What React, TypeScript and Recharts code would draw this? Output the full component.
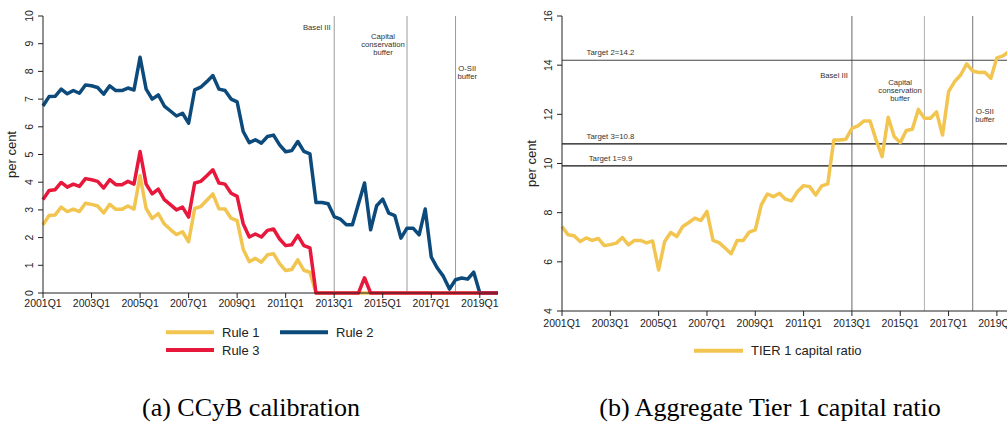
import React from 'react';
import { LineChart, Line, XAxis, YAxis, ReferenceLine } from 'recharts';

// ---------- categories ----------
const quarters: string[] = [];
for (let y = 2001; y <= 2019; y++) for (let q = 1; q <= 4; q++) quarters.push(`${y}Q${q}`);
const tickLabels = ['2001Q1', '2003Q1', '2005Q1', '2007Q1', '2009Q1', '2011Q1', '2013Q1', '2015Q1', '2017Q1', '2019Q1'];

// ---------- series (per cent) ----------
const rule1 = [
  2.46, 2.8, 2.82, 3.1, 2.94, 3.03, 2.94, 3.24, 3.2, 3.14, 2.89, 3.2, 3.02, 3.02, 3.14, 3.03,
  4.23, 3.05, 2.69, 2.87, 2.49, 2.29, 2.11, 2.21, 1.85, 3.05, 3.12, 3.35, 3.58, 3.04, 3.03, 2.7,
  2.61, 1.58, 1.13, 1.25, 1.11, 1.38, 1.42, 1.06, 0.81, 0.85, 1.2, 0.82, 0.75, 0, 0, 0,
  0, 0, 0, 0, 0, 0, 0, 0, 0, 0, 0, 0, 0, 0, 0, 0,
  0, 0, 0, 0, 0, 0, 0, 0, 0, 0, 0, 0,
];
const rule2 = [
  6.75, 7.09, 7.1, 7.36, 7.19, 7.31, 7.21, 7.51, 7.48, 7.42, 7.18, 7.48, 7.31, 7.31, 7.4, 7.33,
  8.51, 7.36, 7.0, 7.15, 6.75, 6.57, 6.39, 6.49, 6.13, 7.33, 7.43, 7.63, 7.85, 7.36, 7.31, 7.0,
  6.9, 5.83, 5.43, 5.53, 5.41, 5.65, 5.7, 5.35, 5.1, 5.14, 5.47, 5.11, 5.02, 3.27, 3.27, 3.22,
  2.76, 2.67, 2.46, 2.46, 3.22, 3.97, 2.28, 3.15, 3.39, 2.88, 2.79, 1.98, 2.34, 2.34, 2.1, 3.03,
  1.3, 0.9, 0.6, 0.14, 0.48, 0.54, 0.5, 0.75, 0, 0, 0, 0,
];
const rule3 = [
  3.37, 3.7, 3.73, 3.99, 3.82, 3.93, 3.85, 4.13, 4.09, 4.03, 3.79, 4.09, 3.91, 3.91, 4.03, 3.93,
  5.11, 3.93, 3.58, 3.75, 3.37, 3.19, 3.0, 3.1, 2.74, 3.97, 4.03, 4.23, 4.45, 3.97, 3.93, 3.6,
  3.49, 2.5, 2.02, 2.13, 2.02, 2.26, 2.31, 1.95, 1.71, 1.74, 2.08, 1.71, 1.63, 0, 0, 0,
  0, 0, 0, 0, 0, 0.55, 0, 0, 0, 0, 0, 0, 0, 0, 0, 0,
  0, 0, 0, 0, 0, 0, 0, 0, 0, 0, 0, 0,
];
const tier1 = [
  7.44, 7.1, 7.06, 6.83, 6.97, 6.87, 6.95, 6.66, 6.7, 6.76, 6.99, 6.69, 6.87, 6.87, 6.77, 6.85,
  5.67, 6.83, 7.19, 7.03, 7.44, 7.6, 7.78, 7.68, 8.05, 6.87, 6.78, 6.56, 6.33, 6.87, 6.87, 7.21,
  7.3, 8.32, 8.76, 8.65, 8.79, 8.55, 8.48, 8.86, 9.1, 9.06, 8.72, 9.09, 9.17, 10.96, 10.96, 10.99,
  11.43, 11.53, 11.73, 11.73, 10.96, 10.28, 11.88, 11.1, 10.85, 11.34, 11.39, 12.2, 11.84, 11.84, 12.1, 11.16,
  12.92, 13.33, 13.6, 14.05, 13.76, 13.7, 13.71, 13.47, 14.3, 14.38, 14.55, 14.62,
];

// ---------- annotations ----------
const eventQuarters = ['2013Q1', '2016Q1', '2018Q1'];
const eventTexts = [['Basel III'], ['Capital', 'conservation', 'buffer'], ['O-SII', 'buffer']];
const targetValues = [14.2, 10.8, 9.9];
const targetNames = ['Target 2', 'Target 3', 'Target 1'];

const leftTicks = [0, 1, 2, 3, 4, 5, 6, 7, 8, 9, 10];
const rightTicks = [4, 6, 8, 10, 12, 14, 16];

const ruleNames = ['Rule 1', 'Rule 2', 'Rule 3'];
const tierName = 'TIER 1 capital ratio';
const captions = ['(a) CCyB calibration', '(b) Aggregate Tier 1 capital ratio'];

// ---------- styles ----------
const YELLOW = '#F2C550';
const BLUE = '#0B4A7B';
const RED = '#E8183D';
const ruleColors = [YELLOW, BLUE, RED];
const SANS = '"Liberation Sans", Arial, Helvetica, sans-serif';
const SERIF = '"Liberation Serif", "Times New Roman", serif';
const AXIS = '#222';

const data = quarters.map((q, i) => ({ i, q, r1: rule1[i], r2: rule2[i], r3: rule3[i], t1: tier1[i] }));
const tickIdx = tickLabels.map((t) => quarters.indexOf(t));
const eventIdx = eventQuarters.map((q) => quarters.indexOf(q));
const lastIdx = quarters.length - 1;

const RotTick = (props: any) => {
  const { x, y, payload } = props;
  return (
    <text x={x} y={y} transform={`rotate(-90 ${x} ${y})`} textAnchor="middle" fontSize={10.5} fill={AXIS} fontFamily={SANS}>
      {payload.value}
    </text>
  );
};

const fmtQ = (v: number) => quarters[v] ?? '';

const makeEventLabel = (lines: string[], dx: number, dy: number, anchor: string) => (p: any) => {
  const vb = p && p.viewBox ? p.viewBox : { x: 0, y: 0 };
  return (
    <text fontSize={7.7} fill="#333" fontFamily={SANS} textAnchor={anchor}>
      {lines.map((l, k) => (
        <tspan key={k} x={vb.x + dx} y={vb.y + dy + k * 8}>
          {l}
        </tspan>
      ))}
    </text>
  );
};

const makeTargetLabel = (text: string, dx: number, dy: number) => (p: any) => {
  const vb = p && p.viewBox ? p.viewBox : { x: 0, y: 0 };
  return (
    <text x={vb.x + dx} y={vb.y + dy} fontSize={7.8} fill="#333" fontFamily={SANS} textAnchor="middle">
      {text}
    </text>
  );
};

const perCent = (dx: number) => (p: any) => {
  const vb = p && p.viewBox ? p.viewBox : { x: 0, y: 0, height: 0 };
  const cx = vb.x + dx;
  const cy = vb.y + vb.height / 2;
  return (
    <text x={cx} y={cy} transform={`rotate(-90 ${cx} ${cy})`} textAnchor="middle" fontSize={13} fill={AXIS} fontFamily={SANS}>
      per cent
    </text>
  );
};

const leftEventCfg = [
  { dx: -3.5, dy: 13.5, anchor: 'end' },
  { dx: -24, dy: 22.5, anchor: 'middle' },
  { dx: 11.7, dy: 55, anchor: 'middle' },
];
const rightEventCfg = [
  { dx: -4, dy: 62, anchor: 'end' },
  { dx: -24.3, dy: 68.5, anchor: 'middle' },
  { dx: 12.2, dy: 97.5, anchor: 'middle' },
];
const leftEventStroke = ['#9a9a9a', '#9a9a9a', '#9a9a9a'];
const rightEventStroke = ['#666', '#b0b0b0', '#777'];
const targetStroke = ['#444', '#111', '#111'];
const targetLabelDy = [-5, -5, -4.5];

export default function App() {
  return (
    <div style={{ position: 'absolute', left: 0, top: 0, width: 1007, height: 426, overflow: 'hidden', background: '#fff' }}>
      {/* Left panel */}
      <div style={{ position: 'absolute', left: 0, top: 0 }}>
        <LineChart width={510} height={310} data={data} margin={{ top: 16, right: 12, bottom: 0, left: 13 }} style={{ fontFamily: SANS }}>
          <XAxis
            dataKey="i"
            type="number"
            domain={[0, lastIdx]}
            ticks={tickIdx}
            tickFormatter={fmtQ}
            interval={0}
            height={17}
            tickSize={5}
            tickMargin={2}
            stroke={AXIS}
            tick={{ fontSize: 10.5, fill: AXIS, fontFamily: SANS }}
            allowDecimals={false}
          />
          <YAxis
            type="number"
            domain={[0, 10]}
            ticks={leftTicks}
            interval={0}
            width={30}
            tickSize={5}
            tickMargin={5}
            stroke={AXIS}
            tick={<RotTick />}
            label={perCent(2.6)}
          />
          {eventIdx.map((ix, k) => (
            <ReferenceLine
              key={`le${k}`}
              x={ix}
              stroke={leftEventStroke[k]}
              strokeWidth={1}
              label={makeEventLabel(eventTexts[k], leftEventCfg[k].dx, leftEventCfg[k].dy, leftEventCfg[k].anchor)}
            />
          ))}
          <Line dataKey="r1" stroke={YELLOW} strokeWidth={3.5} dot={false} isAnimationActive={false} strokeLinejoin="round" />
          <Line dataKey="r2" stroke={BLUE} strokeWidth={3.5} dot={false} isAnimationActive={false} strokeLinejoin="round" />
          <Line dataKey="r3" stroke={RED} strokeWidth={3.5} dot={false} isAnimationActive={false} strokeLinejoin="round" />
        </LineChart>
      </div>

      {/* Left legend */}
      <svg style={{ position: 'absolute', left: 0, top: 320 }} width={510} height={45}>
        {ruleNames.map((n, k) => {
          const col = k === 1 ? 1 : 0;
          const row = k === 2 ? 1 : 0;
          const x0 = col === 0 ? 166 : 280;
          const y0 = 12.3 + row * 17.7;
          return (
            <g key={n}>
              <line x1={x0} x2={x0 + 48} y1={y0} y2={y0} stroke={ruleColors[k]} strokeWidth={4} />
              <text x={x0 + 56} y={y0 + 4.7} fontSize={13} fill={AXIS} fontFamily={SANS}>
                {n}
              </text>
            </g>
          );
        })}
      </svg>

      {/* Right panel */}
      <div style={{ position: 'absolute', left: 520, top: 0 }}>
        <LineChart width={510} height={330} data={data} margin={{ top: 16, right: 15, bottom: 0, left: 12 }} style={{ fontFamily: SANS }}>
          <XAxis
            dataKey="i"
            type="number"
            domain={[0, lastIdx]}
            ticks={tickIdx}
            tickFormatter={fmtQ}
            interval={0}
            height={19}
            tickSize={5}
            tickMargin={3.5}
            stroke={AXIS}
            tick={{ fontSize: 10.5, fill: AXIS, fontFamily: SANS }}
          />
          <YAxis
            type="number"
            domain={[4, 16]}
            ticks={rightTicks}
            interval={0}
            width={30}
            tickSize={5}
            tickMargin={5}
            stroke={AXIS}
            tick={<RotTick />}
            label={perCent(3.6)}
          />
          {eventIdx.map((ix, k) => (
            <ReferenceLine
              key={`re${k}`}
              x={ix}
              stroke={rightEventStroke[k]}
              strokeWidth={1}
              label={makeEventLabel(eventTexts[k], rightEventCfg[k].dx, rightEventCfg[k].dy, rightEventCfg[k].anchor)}
            />
          ))}
          {targetValues.map((v, k) => (
            <ReferenceLine
              key={`t${k}`}
              y={v}
              stroke={targetStroke[k]}
              strokeWidth={1.2}
              label={makeTargetLabel(`${targetNames[k]}=${v}`, 48.5, targetLabelDy[k])}
            />
          ))}
          <Line dataKey="t1" stroke={YELLOW} strokeWidth={3.5} dot={false} isAnimationActive={false} strokeLinejoin="round" />
        </LineChart>
      </div>

      {/* Right legend */}
      <svg style={{ position: 'absolute', left: 520, top: 320 }} width={487} height={45}>
        <line x1={174} x2={223} y1={30.7} y2={30.7} stroke={YELLOW} strokeWidth={4} />
        <text x={231} y={35} fontSize={13} fill={AXIS} fontFamily={SANS}>
          {tierName}
        </text>
      </svg>

      {/* Captions */}
      <div style={{ position: 'absolute', left: 0, width: 502, top: 393, textAlign: 'center', fontFamily: SERIF, fontSize: 26, lineHeight: '30px', color: '#000' }}>
        {captions[0]}
      </div>
      <div style={{ position: 'absolute', left: 520, width: 500, top: 393, textAlign: 'center', fontFamily: SERIF, fontSize: 26, lineHeight: '30px', color: '#000' }}>
        {captions[1]}
      </div>
    </div>
  );
}
